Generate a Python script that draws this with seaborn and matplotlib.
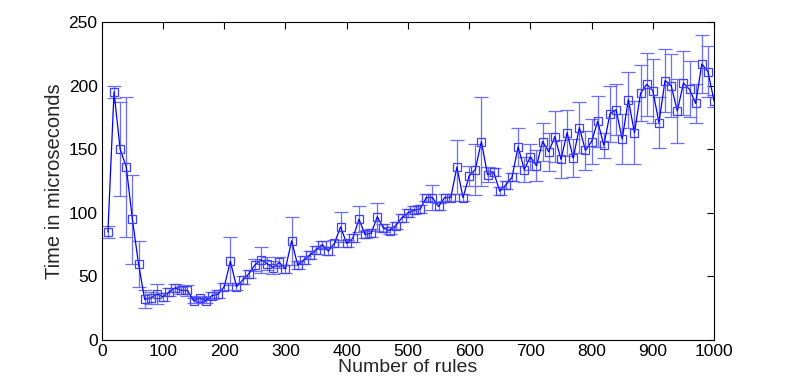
import numpy as np
import pandas as pd
import seaborn as sns
import matplotlib.pyplot as plt

rules = list(range(10, 1001, 10))
time_us = [
    85, 195, 150, 136, 95, 60, 32, 33, 36, 34,
    38, 41, 39, 39, 31, 33, 31, 35, 36, 42,
    62, 42, 47, 52, 59, 63, 60, 57, 61, 56,
    78, 59, 63, 67, 71, 75, 70, 76, 89, 76,
    80, 95, 83, 84, 97, 88, 86, 90, 96, 100,
    102, 103, 112, 112, 105, 112, 112, 136, 112, 129,
    134, 156, 130, 132, 117, 122, 128, 152, 134, 144,
    137, 156, 148, 160, 142, 163, 143, 167, 149, 156,
    172, 153, 178, 181, 158, 189, 163, 194, 201, 196,
    171, 204, 200, 180, 202, 197, 186, 217, 211, 188,
]
err_us = [
    5, 5, 37, 55, 35, 18, 7, 5, 8, 3,
    3, 3, 3, 4, 2, 2, 2, 3, 3, 3,
    19, 3, 3, 3, 5, 10, 5, 5, 4, 3,
    19, 3, 3, 3, 3, 3, 3, 3, 12, 3,
    3, 10, 3, 3, 11, 3, 3, 3, 3, 3,
    3, 3, 3, 10, 3, 3, 3, 21, 3, 8,
    20, 35, 6, 3, 3, 3, 3, 15, 10, 10,
    12, 15, 15, 20, 15, 18, 15, 20, 15, 18,
    20, 10, 22, 20, 20, 22, 25, 22, 25, 25,
    20, 25, 25, 25, 25, 22, 15, 23, 20, 5,
]

df = pd.DataFrame({"rules": rules, "time": time_us, "err": err_us})

sns.set_style("white")
plt.rcParams["font.family"] = ["Liberation Sans", "DejaVu Sans"]

fig = plt.figure(figsize=(7.89, 3.86), dpi=100)
ax = fig.add_axes([0.129, 0.119, 0.776, 0.824])

# error bars first, line and squares on top
ax.errorbar(df["rules"], df["time"], yerr=df["err"], fmt="none",
            ecolor="#6f6fff", elinewidth=0.9, capsize=5, capthick=0.9)
sns.lineplot(data=df, x="rules", y="time", ax=ax, color="#0000ff",
             linewidth=0.9, marker="s", markersize=6,
             markerfacecolor="none", markeredgecolor="#4040ff",
             markeredgewidth=0.9)

ax.set_xlim(0, 1000)
ax.set_ylim(0, 250)
ax.set_xticks(range(0, 1001, 100))
ax.set_yticks(range(0, 251, 50))
ax.tick_params(direction="in", length=5, width=0.8, top=True, right=True,
               labelsize=12.5, colors="black", pad=3)
for s in ax.spines.values():
    s.set_color("black")
    s.set_linewidth(0.8)

ax.set_xlabel("Number of rules", fontsize=14, labelpad=0)
ax.set_ylabel("Time in microseconds", fontsize=14.5, labelpad=3)

fig.savefig("out.png", dpi=100)
